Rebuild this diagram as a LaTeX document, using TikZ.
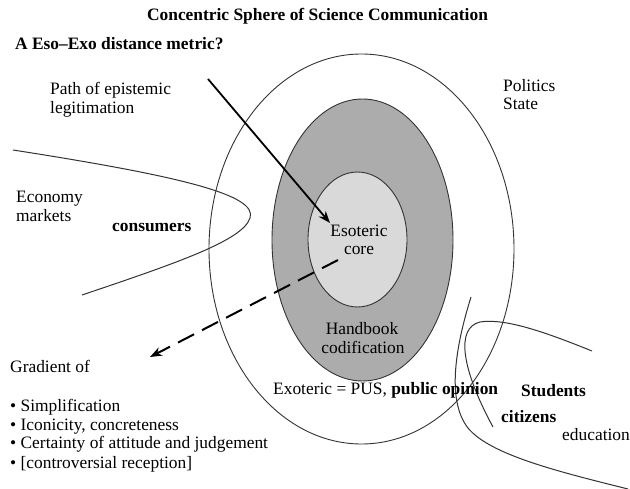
\documentclass[tikz,border=0pt]{standalone}
\usepackage{fontspec}
\setmainfont{Liberation Serif}
\usetikzlibrary{arrows.meta,shapes.geometric}
\definecolor{ringgray}{HTML}{ACACAC}
\definecolor{coregray}{HTML}{D9D9D9}
\definecolor{linegray}{HTML}{333333}
\begin{document}
\begin{tikzpicture}[x=1pt,y=-1pt,
  txt/.style={inner sep=0pt, anchor=base west, font=\fontsize{17.4}{19}\selectfont},
  ctxt/.style={txt, anchor=base},
  sphere/.style={ellipse, draw=linegray, line width=0.9pt, inner sep=0pt},
  field/.style={draw=linegray, line width=1pt},
  legit/.style={line width=1.8pt, -{Stealth[length=12pt,width=9pt]}},
  gradient/.style={line width=2pt, dash pattern=on 18pt off 9pt, -{Stealth[length=12pt,width=9pt]}}
]
\useasboundingbox (0,0) rectangle (630,489);

% concentric spheres
\node[sphere, minimum width=305pt, minimum height=390pt] (exo) at (361.5,249) {};
\node[sphere, fill=ringgray, minimum width=181pt, minimum height=282pt] (handbook) at (362.5,240) {};
\node[sphere, fill=coregray, minimum width=99pt, minimum height=135pt] (core) at (357.5,239.5) {};

% field boundaries
\draw[field] (13,150) .. controls (180,176) and (258,195) .. (250,218)
  .. controls (243,240) and (180,262) .. (82,295);
\draw[field] (592,351) .. controls (545,332) and (505,318) .. (480,322)
  .. controls (455,328) and (462,370) .. (493,427);
\draw[field] (471,297) .. controls (456,345) and (446,400) .. (468,428)
  .. controls (490,455) and (560,472) .. (628,489);

% titles
\node[ctxt, font=\fontsize{17.4}{19}\selectfont\bfseries] (title) at (317.5,21) {Concentric Sphere of Science Communication};
\node[txt, font=\fontsize{17.4}{19}\selectfont\bfseries] (metric) at (15,50) {A Eso--Exo distance metric?};

% labels
\node[txt] (path1) at (50,95) {Path of epistemic};
\node[txt] (path2) at (50,114) {legitimation};
\node[txt] (politics) at (503,92) {Politics};
\node[txt] (state) at (503,110) {State};
\node[txt] (economy) at (16,203) {Economy};
\node[txt] (markets) at (16,222) {markets};
\node[txt, font=\fontsize{17.4}{19}\selectfont\bfseries] (consumers) at (112,232) {consumers};
\node[ctxt] (eso1) at (359,237) {Esoteric};
\node[ctxt] (eso2) at (359,255) {core};
\node[ctxt] (hb1) at (362,335) {Handbook};
\node[ctxt] (hb2) at (363,354) {codification};
\node[txt] (exoteric) at (273,395) {Exoteric = PUS, \textbf{public opinion}};
\node[txt, font=\fontsize{17.4}{19}\selectfont\bfseries] (students) at (521,397) {Students};
\node[txt, font=\fontsize{17.4}{19}\selectfont\bfseries] (citizens) at (501,422) {citizens};
\node[txt] (education) at (562,440) {education};

% gradient list
\node[txt] (grad) at (10,373) {Gradient of};
\node[txt] (g1) at (10,412) {\textbullet\ Simplification};
\node[txt] (g2) at (10,431) {\textbullet\ Iconicity, concreteness};
\node[txt] (g3) at (10,449) {\textbullet\ Certainty of attitude and judgement};
\node[txt] (g4) at (10,468) {\textbullet\ [controversial reception]};

% arrows
\coordinate (legitStart) at (208,79);
\coordinate (legitEnd) at (330,223);
\coordinate (gradStart) at (338,260);
\coordinate (gradEnd) at (150,357);
\draw[legit] (legitStart) -- (legitEnd);
\draw[gradient] (gradStart) -- (gradEnd);
\end{tikzpicture}
\end{document}
